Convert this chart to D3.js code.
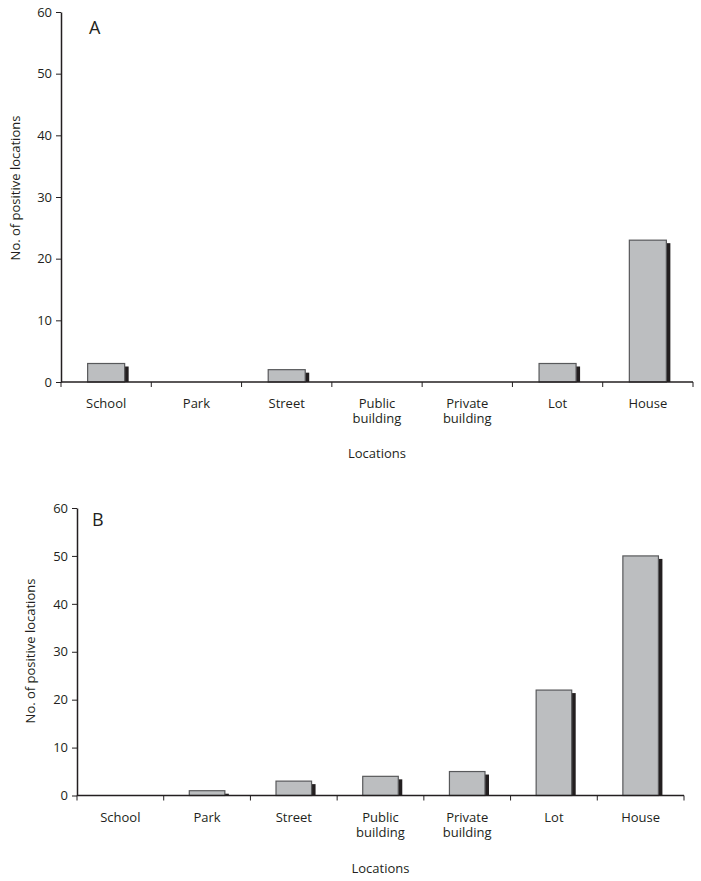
<!DOCTYPE html>
<html><head><meta charset="utf-8">
<script src="https://cdn.jsdelivr.net/npm/d3@7"></script>
<style>
body{margin:0;background:#fff;}
svg text{font-family:"Open Sans","Noto Sans",sans-serif;fill:#231f20;}
</style></head>
<body><svg id="c" width="701" height="881"></svg>
<script>
const categories = ["School","Park","Street","Public building","Private building","Lot","House"];
const valuesA = [3,0,2,0,0,3,23];
const valuesB = [0,1,3,4,5,22,50];
const yTicks = [0,10,20,30,40,50,60];
const panelLabels = ["A","B"];
const yTitle = "No. of positive locations";
const xTitle = "Locations";

const svg = d3.select("#c");
const ink = "#231f20";

function panel(cfg, values, letter){
  const g = svg.append("g");
  const x = d3.scaleBand().domain(categories).range([cfg.x0, cfg.x1]).padding(0);
  const y = d3.scaleLinear().domain([0,60]).range([cfg.y0, cfg.y1]);
  const bw = x.bandwidth()*0.41;
  const data = categories.map((c,i)=>({c, v: values[i]})).filter(d=>d.v>0);
  // shadows
  g.selectAll("rect.sh").data(data).enter().append("rect")
    .attr("x", d=>x(d.c)+x.bandwidth()/2-bw/2+4)
    .attr("y", d=>y(d.v)+3)
    .attr("width", bw)
    .attr("height", d=>Math.max(0, y(0)-y(d.v)-3))
    .attr("fill", ink);
  g.selectAll("rect.bar").data(data).enter().append("rect")
    .attr("x", d=>x(d.c)+x.bandwidth()/2-bw/2)
    .attr("y", d=>y(d.v))
    .attr("width", bw)
    .attr("height", d=>y(0)-y(d.v))
    .attr("fill", "#bcbec0").attr("stroke", "#58595b").attr("stroke-width", 1.2);
  // y axis
  const ya = g.append("g").attr("transform",`translate(${cfg.x0},0)`)
    .call(d3.axisLeft(y).tickValues(yTicks).tickSize(5).tickSizeOuter(0).tickPadding(4));
  ya.select(".domain").attr("stroke", ink).attr("stroke-width", 1.5);
  ya.selectAll(".tick line").attr("stroke", ink);
  ya.selectAll(".tick text").attr("font-size", 13).attr("fill", ink);
  // x axis line
  g.append("line").attr("x1", cfg.x0).attr("x2", cfg.x1).attr("y1", y(0)).attr("y2", y(0))
    .attr("stroke", ink).attr("stroke-width", 1.5);
  // boundary ticks
  const bounds = categories.map(c=>x(c)).concat([cfg.x1]);
  g.selectAll("line.bt").data(bounds).enter().append("line")
    .attr("x1", d=>d).attr("x2", d=>d).attr("y1", y(0)).attr("y2", y(0)+5)
    .attr("stroke", ink).attr("stroke-width", 1);
  // category labels
  const lbl = g.selectAll("text.cat").data(categories).enter().append("text")
    .attr("x", d=>x(d)+x.bandwidth()/2).attr("y", y(0)+cfg.labOff)
    .attr("text-anchor","middle").attr("font-size", 13);
  lbl.each(function(d){
    const parts = d.split(" ");
    const t = d3.select(this);
    parts.forEach((p,i)=>t.append("tspan").attr("x", x(d)+x.bandwidth()/2).attr("dy", i===0?0:15).text(p));
  });
  g.append("text").attr("x",(cfg.x0+cfg.x1)/2).attr("y", cfg.xtY).attr("text-anchor","middle")
    .attr("font-size",13).text(xTitle);
  g.append("text").attr("transform",`translate(${cfg.ytX},${cfg.ytY}) rotate(-90)`)
    .attr("text-anchor","middle").attr("font-size",13).text(yTitle);
  g.append("text").attr("x", cfg.lx).attr("y", cfg.ly).attr("font-size",18).text(letter);
}

panel({x0:61, x1:693, y0:382, y1:12, labOff:26, xtY:458, ytX:20, ytY:188, lx:89, ly:34}, valuesA, panelLabels[0]);
panel({x0:77, x1:684, y0:795.5, y1:508, labOff:26, xtY:873, ytX:35, ytY:651, lx:92, ly:526}, valuesB, panelLabels[1]);
</script></body></html>
